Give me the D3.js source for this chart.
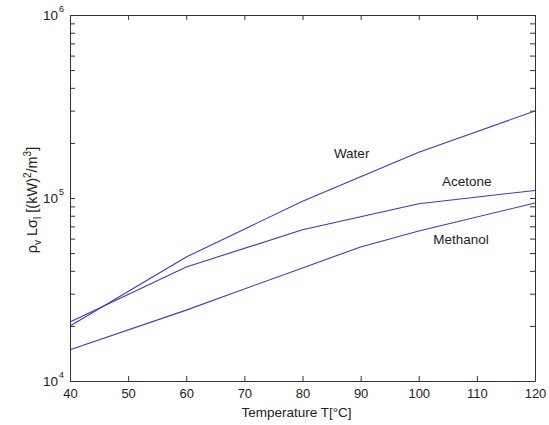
<!DOCTYPE html>
<html>
<head>
<meta charset="utf-8">
<script src="https://cdn.jsdelivr.net/npm/d3@7"></script>
<style>
  body { margin: 0; background: #fff; }
  text { font-family: "Liberation Sans", Arial, sans-serif; fill: #222; }
</style>
</head>
<body>
<div id="chart"></div>
<script>
// Data
const temps = [40, 60, 80, 100, 120];
const water = [20000, 47600, 96000, 178000, 299000];
const acetone = [21000, 42000, 67000, 93000, 110000];
const methanolTemps = [40, 60, 80, 90, 100, 120];
const methanol = [14800, 24400, 41500, 54000, 66000, 94000];

const xTicks = [40, 50, 60, 70, 80, 90, 100, 110, 120];
const yDecades = [4, 5, 6];

// label anchors in data units (temperature, value)
const labels = [
  { name: "Water", t: 85.4, v: 1.65e5 },
  { name: "Acetone", t: 104.0, v: 1.16e5 },
  { name: "Methanol", t: 102.5, v: 5.6e4 }
];

// Chart dimensions
let width = 549, height = 425;
let margin = { top: 15, right: 14, bottom: 44, left: 70 };
let plotW = width - margin.left - margin.right;
let plotH = height - margin.top - margin.bottom;

let svg = d3.select("#chart")
  .append("svg")
  .attr("width", width)
  .attr("height", height);

let g = svg.append("g")
  .attr("transform", `translate(${margin.left},${margin.top})`);

// Scales
let xScale = d3.scaleLinear().domain([40, 120]).range([0, plotW]);
let yScale = d3.scaleLog().domain([1e4, 1e6]).range([plotH, 0]);

// log ticks (minor + major)
let yTicks = [];
for (let k = 4; k < 6; k++) {
  for (let m = 1; m < 10; m++) yTicks.push(m * Math.pow(10, k));
}
yTicks.push(1e6);

// Axes (inward ticks, like the original)
function styleAxis(sel) {
  sel.select(".domain").attr("stroke", "#333");
  sel.selectAll(".tick line").attr("stroke", "#333");
  sel.selectAll("text").attr("font-size", "13px").attr("fill", "#222")
    .attr("font-family", "Liberation Sans, Arial, sans-serif");
}

g.append("g")
  .attr("transform", `translate(0,${plotH})`)
  .call(d3.axisBottom(xScale).tickValues(xTicks).tickSizeInner(-5).tickSizeOuter(0).tickPadding(8))
  .call(styleAxis);

g.append("g")
  .call(d3.axisTop(xScale).tickValues(xTicks).tickSizeInner(-5).tickSizeOuter(0).tickFormat(""))
  .call(styleAxis);

g.append("g")
  .call(d3.axisLeft(yScale).tickValues(yTicks).tickSizeInner(-5).tickSizeOuter(0).tickFormat(""))
  .call(styleAxis);

g.append("g")
  .attr("transform", `translate(${plotW},0)`)
  .call(d3.axisRight(yScale).tickValues(yTicks).tickSizeInner(-5).tickSizeOuter(0).tickFormat(""))
  .call(styleAxis);

// y decade labels 10^k
yDecades.forEach(function(k) {
  let yy = yScale(Math.pow(10, k));
  g.append("text")
    .attr("x", -12)
    .attr("y", yy + 5)
    .attr("text-anchor", "end")
    .attr("font-size", "13.5px")
    .text("10");
  g.append("text")
    .attr("x", -11)
    .attr("y", yy - 3)
    .attr("font-size", "9px")
    .text(k);
});

// Lines
let line = d3.line()
  .x(d => xScale(d[0]))
  .y(d => yScale(d[1]));

let series = [
  d3.zip(temps, water),
  d3.zip(temps, acetone),
  d3.zip(methanolTemps, methanol)
];

series.forEach(function(s) {
  g.append("path")
    .datum(s)
    .attr("d", line)
    .attr("fill", "none")
    .attr("stroke", "#3a3ac6")
    .attr("stroke-width", 1.1);
});

// Series labels
labels.forEach(function(l) {
  g.append("text")
    .attr("x", xScale(l.t))
    .attr("y", yScale(l.v))
    .attr("font-size", "13.5px")
    .text(l.name);
});

// Axis titles
svg.append("text")
  .attr("x", margin.left + plotW / 2 - 6)
  .attr("y", 417)
  .attr("text-anchor", "middle")
  .attr("font-size", "13.5px")
  .text("Temperature T[°C]");

let ylab = svg.append("text")
  .attr("transform", `translate(37,${margin.top + plotH / 2 + 2}) rotate(-90)`)
  .attr("text-anchor", "middle")
  .attr("font-size", "14.5px");
ylab.append("tspan").text("ρ");
ylab.append("tspan").attr("font-size", "10px").attr("dy", 4).text("v");
ylab.append("tspan").attr("dy", -4).text(" L");
ylab.append("tspan").attr("dy", 0).text("σ");
ylab.append("tspan").attr("font-size", "10px").attr("dy", 4).text("l");
ylab.append("tspan").attr("dy", -4).text("  [(kW)");
ylab.append("tspan").attr("font-size", "10px").attr("dy", -6).text("2");
ylab.append("tspan").attr("dy", 6).text("/m");
ylab.append("tspan").attr("font-size", "10px").attr("dy", -6).text("3");
ylab.append("tspan").attr("dy", 6).text("]");
</script>
</body>
</html>
